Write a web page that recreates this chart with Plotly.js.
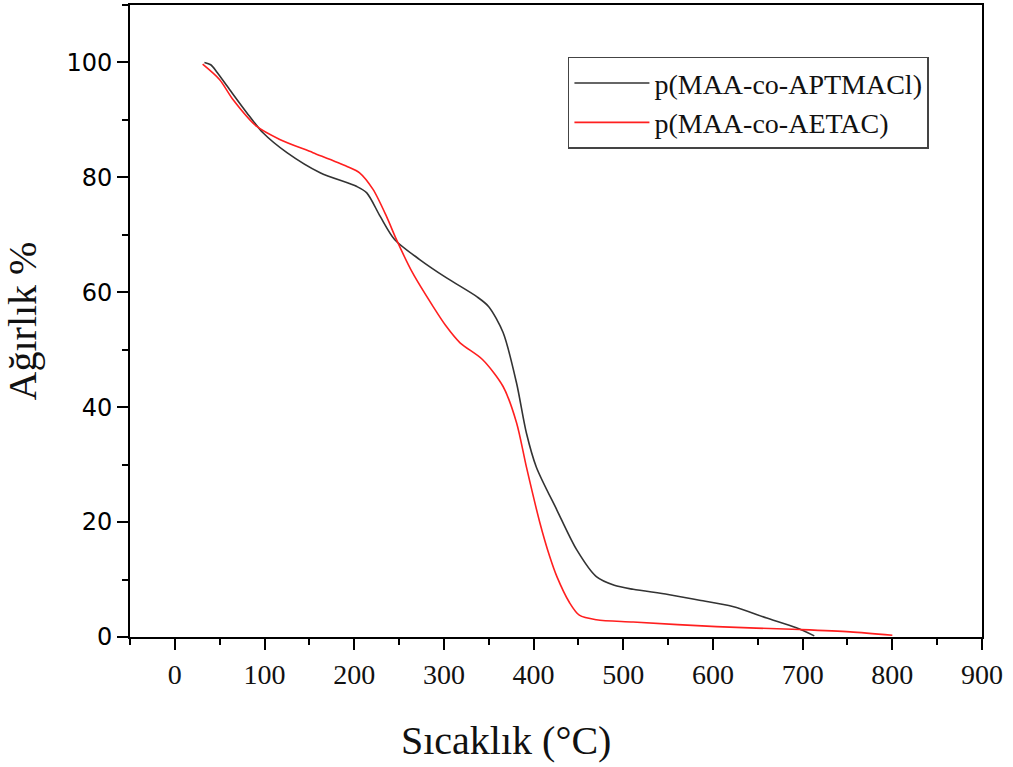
<!DOCTYPE html>
<html>
<head>
<meta charset="utf-8">
<script src="https://cdn.plot.ly/plotly-3.0.1.min.js"></script>
<style>
html,body{margin:0;padding:0;background:#fff;}
#chart{width:1013px;height:767px;}
</style>
</head>
<body>
<div id="chart"></div>
<script>
// Series names
const seriesNames = ["p(MAA-co-APTMACl)", "p(MAA-co-AETAC)"];

// p(MAA-co-APTMACl) — temperature (°C) and weight (%)
const tempAPTMACl = [33, 40, 47, 61, 80, 98, 125, 162, 203, 214, 229, 245, 273, 303, 337, 350, 366, 381, 392, 403, 426, 448, 470, 490, 511, 550, 585, 622, 660, 693, 713];
const weightAPTMACl = [100, 99.6, 98.3, 95.3, 91.3, 87.8, 84.3, 80.8, 78.4, 77.3, 73.2, 69.2, 65.7, 62.5, 59.2, 57.5, 53, 44.2, 35.5, 29.6, 22.1, 15.2, 10.5, 9.0, 8.3, 7.4, 6.4, 5.3, 3.3, 1.6, 0.2];

// p(MAA-co-AETAC)
const tempAETAC = [31, 50, 65, 91, 117, 154, 192, 206, 221, 236, 247, 265, 288, 302, 318, 343, 366, 381, 392, 407, 418, 426, 440, 451, 470, 511, 604, 697, 753, 800];
const weightAETAC = [99.7, 97, 93.5, 88.9, 86.6, 84.3, 81.9, 80.8, 77.9, 73.2, 69.2, 63.4, 57.5, 54.2, 51.2, 48.3, 43.6, 37.3, 29.6, 19.9, 14, 10.5, 6, 3.8, 3.0, 2.6, 1.8, 1.3, 0.9, 0.3];

// Axis ticks
const xTicks = [0, 100, 200, 300, 400, 500, 600, 700, 800, 900];
const yTicks = [0, 20, 40, 60, 80, 100];
const xTitle = "Sıcaklık (°C)";
const yTitle = "Ağırlık %";

const traces = [
  {
    x: tempAPTMACl, y: weightAPTMACl, name: seriesNames[0],
    type: "scatter", mode: "lines",
    line: {color: "#333333", width: 1.6, shape: "spline", smoothing: 0.8}
  },
  {
    x: tempAETAC, y: weightAETAC, name: seriesNames[1],
    type: "scatter", mode: "lines",
    line: {color: "#ff1f1f", width: 1.6, shape: "spline", smoothing: 0.8}
  }
];

const serif = "Liberation Serif";

const layout = {
  width: 1013, height: 767,
  margin: {l: 130, r: 31, t: 5, b: 130, pad: 0},
  paper_bgcolor: "#fff", plot_bgcolor: "#fff",
  showlegend: true,
  legend: {
    x: 0.514, y: 0.918, xanchor: "left", yanchor: "top",
    bgcolor: "#fff", bordercolor: "#444", borderwidth: 1.5,
    font: {family: serif, size: 28, color: "#111"},
    itemwidth: 75,
    tracegroupgap: 0
  },
  xaxis: {
    range: [-50, 900],
    tickmode: "array", tickvals: xTicks, ticktext: xTicks.map(String),
    ticks: "outside", ticklen: 11, tickwidth: 2, tickcolor: "#000",
    minor: {dtick: 50, tick0: 0, ticks: "outside", ticklen: 6, tickwidth: 2, tickcolor: "#000"},
    showline: true, linecolor: "#000", linewidth: 2, mirror: true,
    showgrid: false, zeroline: false,
    tickfont: {family: serif, size: 28, color: "#111"}
  },
  yaxis: {
    range: [0, 110],
    tickmode: "array", tickvals: yTicks, ticktext: yTicks.map(String),
    ticks: "outside", ticklen: 11, tickwidth: 2, tickcolor: "#000",
    minor: {dtick: 10, tick0: 0, ticks: "outside", ticklen: 6, tickwidth: 2, tickcolor: "#000"},
    showline: true, linecolor: "#000", linewidth: 2, mirror: true,
    showgrid: false, zeroline: false,
    tickfont: {family: "DejaVu Sans", size: 24, color: "#000"},
    title: {text: yTitle, font: {family: serif, size: 40, color: "#111"}, standoff: 18}
  },
  annotations: [
    {
      text: xTitle, xref: "paper", yref: "paper",
      x: (506 - 130) / 852, y: -0.163, xanchor: "center", yanchor: "middle",
      showarrow: false,
      font: {family: serif, size: 40, color: "#111"}
    }
  ]
};

Plotly.newPlot("chart", traces, layout, {displayModeBar: false, staticPlot: true});
</script>
</body>
</html>
